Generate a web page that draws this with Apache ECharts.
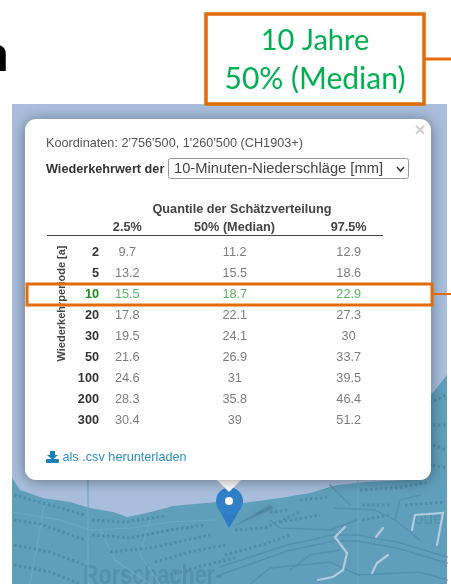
<!DOCTYPE html>
<html>
<head>
<meta charset="utf-8">
<title>Wiederkehrwerte</title>
<script src="https://cdn.jsdelivr.net/npm/echarts@6/dist/echarts.min.js"></script>
<style>
html, body { margin: 0; padding: 0; background: #fff; }
#chart { width: 451px; height: 584px; filter: blur(0.5px); }
</style>
</head>
<body>
<div id="chart"></div>
<script>
// Tabelle
var periods = ['2', '5', '10', '20', '30', '50', '100', '200', '300'];
var quantiles = ['2.5%', '50% (Median)', '97.5%'];
var q025 = [9.7, 13.2, 15.5, 17.8, 19.5, 21.6, 24.6, 28.3, 30.4];
var q500 = [11.2, 15.5, 18.7, 22.1, 24.1, 26.9, 31, 35.8, 39];
var q975 = [12.9, 18.6, 22.9, 27.3, 30, 33.7, 39.5, 46.4, 51.2];
var highlightPeriod = '10';

var ORANGE = '#e36c0a';
var CALLOUT = '#00b050';
var GREEN = '#2f9e3a';
var FONT = '"Liberation Sans", Arial, sans-serif';
var LAKE = '#a8bedc';
var LAND = '#609fbc';
var STREET = '#5391af';
var HOUSES = '#4f8dab';
var ROAD = '#6ca8c3';
var RIVER = '#b2cbdf';
var TEXT_SIZE = 12.7;

var chart = echarts.init(document.getElementById('chart'));

function cellSeries(name, values, col, labelOffset) {
	return {
		name: name,
		type: 'scatter',
		symbolSize: 1,
		itemStyle: { color: 'rgba(0,0,0,0)' },
		silent: true,
		z: 3,
		label: {
			show: true,
			position: 'inside',
			offset: [labelOffset, 0],
			fontFamily: FONT,
			fontSize: TEXT_SIZE,
			color: '#5a5a5a',
			formatter: function (p) { return String(p.value[2]); }
		},
		data: values.map(function (v, i) {
			var item = { value: [col, i, v] };
			if (periods[i] === highlightPeriod) {
				item.label = { color: GREEN };
			}
			return item;
		})
	};
}

// Hintergrund: Karte, Popup, Marker
function back(el) { el.z = -5; el.silent = true; return el; }
function line(points, color, w, dash) {
	return back({
		type: 'polyline',
		shape: { points: points },
		style: { fill: null, stroke: color, lineWidth: w, lineDash: dash || null, lineCap: dash ? 'butt' : 'round' }
	});
}
function street(points) { return line(points, STREET, 1.4); }
function road(points) { return line(points, ROAD, 1.2); }
function houses(points) { return line(points, HOUSES, 3, [2.5, 2.5]); }
function river(points) { return line(points, RIVER, 2.2); }
function text(x, y, str, size, color, weight, align, family) {
	return {
		type: 'text',
		x: x,
		y: y,
		z: -3,
		silent: true,
		style: {
			text: str,
			fontFamily: family || FONT,
			fontSize: size,
			fontWeight: weight || 'normal',
			fill: color,
			align: align || 'left',
			verticalAlign: 'middle'
		}
	};
}

var placeName = text(83, 577, 'Rorschacher-', 27, '#5391ae', 'bold');
placeName.z = -5;
placeName.scaleX = 0.8;
var placeName2 = text(414, 519, 'oue', 17, '#5391ae');
placeName2.z = -5;

var elements = [
	back({ type: 'rect', shape: { x: 12, y: 104, width: 435, height: 480 }, style: { fill: LAKE } }),
	back({
		type: 'polygon',
		shape: { points: [[12, 478], [20, 490], [43, 498], [70, 502], [90, 508], [113, 512], [127, 517], [147, 513], [173, 506], [217, 502], [243, 503], [280, 498], [310, 493], [320, 490], [337, 485], [367, 482], [407, 480], [431, 395], [447, 375], [447, 584], [12, 584]] },
		style: { fill: LAND }
	}),
	placeName,
	placeName2,
	// Strassen
	road([[12, 512], [60, 520], [90, 530], [130, 528], [170, 522], [215, 520]]),
	road([[88, 480], [88, 584]]),
	road([[358, 480], [358, 584]]),
	road([[45, 500], [38, 540], [30, 584]]),
	road([[100, 530], [115, 560], [150, 584]]),
	road([[150, 520], [140, 555], [160, 584]]),
	street([[220, 567], [287, 545], [333, 535], [357, 535], [397, 542], [447, 557]]),
	street([[220, 575], [287, 551], [333, 541], [357, 541], [397, 548], [447, 563]]),
	street([[250, 584], [270, 568], [330, 562], [358, 575], [420, 572], [447, 580]]),
	street([[290, 570], [310, 555], [340, 550]]),
	street([[335, 508], [375, 510], [395, 520], [400, 500], [420, 495]]),
	street([[357, 520], [330, 530], [280, 528], [270, 520]]),
	street([[395, 520], [420, 540]]),
	street([[330, 485], [350, 505]]),
	// Haeuserzeilen
	houses([[14, 495], [50, 505], [85, 515]]),
	houses([[14, 520], [40, 524], [85, 540]]),
	houses([[14, 545], [50, 552], [85, 565]]),
	houses([[14, 565], [50, 572], [80, 584]]),
	houses([[92, 520], [125, 522], [165, 516]]),
	houses([[92, 535], [130, 538], [170, 530], [205, 525]]),
	houses([[110, 552], [150, 548], [210, 535]]),
	houses([[155, 562], [190, 552], [225, 545]]),
	houses([[170, 575], [205, 565], [235, 558]]),
	houses([[225, 555], [262, 545], [290, 535]]),
	houses([[235, 530], [265, 528], [300, 512]]),
	houses([[270, 512], [290, 510]]),
	houses([[280, 522], [320, 515]]),
	houses([[300, 500], [330, 497]]),
	houses([[360, 490], [395, 488], [430, 482]]),
	houses([[362, 505], [390, 505]]),
	houses([[362, 520], [390, 515]]),
	houses([[405, 505], [445, 502]]),
	houses([[425, 405], [446, 395]]),
	houses([[433, 425], [446, 425]]),
	houses([[433, 445], [446, 450]]),
	houses([[433, 465], [446, 468]]),
	river([[345, 527], [335, 537], [347, 553], [343, 570], [333, 577], [318, 580]]),
	river([[383, 528], [376, 537]]),
	river([[388, 555], [377, 563], [372, 573]]),
	river([[412, 530], [415, 515], [443, 513], [437, 545]]),
	// Marker
	back({ type: 'polygon', shape: { points: [[232, 527], [270, 505], [274, 508]] }, style: { fill: 'rgba(50,95,120,0.3)', shadowBlur: 6, shadowColor: 'rgba(35,75,95,0.6)' } }),
	back({ type: 'polygon', shape: { points: [[217.5, 507], [241.5, 507], [229, 528]] }, style: { fill: '#2d7cc3' } }),
	back({ type: 'circle', shape: { cx: 229.5, cy: 501, r: 13.5 }, style: { fill: '#2f80c9' } }),
	back({ type: 'circle', shape: { cx: 229, cy: 501, r: 4 }, style: { fill: '#fff' } }),
	// Popup
	back({ type: 'polygon', shape: { points: [[217, 480], [241, 480], [229, 492]] }, style: { fill: '#fff' } }),
	back({
		type: 'rect',
		shape: { x: 25, y: 119, width: 406, height: 361, r: 11 },
		style: { fill: '#fff', shadowBlur: 14, shadowColor: 'rgba(0,0,0,0.4)', shadowOffsetY: 1 }
	}),
	text(420, 131, '×', 19, '#cfcfcf', 'bold', 'center'),
	text(46, 143.5, "Koordinaten: 2'756'500, 1'260'500 (CH1903+)", TEXT_SIZE, '#555'),
	text(46, 169.5, 'Wiederkehrwert der', TEXT_SIZE, '#333', 'bold'),
	{
		type: 'rect',
		z: -3,
		silent: true,
		shape: { x: 168.5, y: 158.5, width: 240, height: 20, r: 2 },
		style: { fill: '#fff', stroke: '#999', lineWidth: 1 }
	},
	text(174, 168.5, '10-Minuten-Niederschläge [mm]', 14.7, '#444'),
	{
		type: 'polyline',
		z: -3,
		silent: true,
		shape: { points: [[397, 167], [400.5, 171], [404, 167]] },
		style: { fill: null, stroke: '#333', lineWidth: 1.5 }
	},
	text(242, 209.5, 'Quantile der Schätzverteilung', TEXT_SIZE, '#444', 'bold', 'center'),
	{
		type: 'line',
		z: -3,
		silent: true,
		shape: { x1: 47, y1: 235.5, x2: 383, y2: 235.5 },
		style: { stroke: '#444', lineWidth: 1 }
	},
	{
		type: 'text',
		x: 62,
		y: 303.5,
		z: -3,
		rotation: Math.PI / 2,
		silent: true,
		style: {
			text: 'Wiederkehrperiode [a]',
			fontFamily: FONT,
			fontSize: 11,
			fontWeight: 'bold',
			fill: '#444',
			align: 'center',
			verticalAlign: 'middle'
		}
	},
	// Seite, Beschriftung in Orange
	text(-21, 58, 'n', 46, '#000', 'bold', 'left', '"Open Sans"'),
	{
		type: 'rect',
		z: 10,
		silent: true,
		shape: { x: 206, y: 14, width: 218, height: 90 },
		style: { fill: '#fff', stroke: ORANGE, lineWidth: 3.5 }
	},
	{ type: 'line', z: 10, silent: true, shape: { x1: 424, y1: 59, x2: 451, y2: 59 }, style: { stroke: ORANGE, lineWidth: 3 } },
	{
		type: 'text', x: 315, y: 40.5, z: 11, silent: true,
		style: { text: '10 Jahre', fontFamily: 'Lato', fontSize: 29, fill: CALLOUT, align: 'center', verticalAlign: 'middle' }
	},
	{
		type: 'text', x: 315, y: 79, z: 11, silent: true,
		style: { text: '50% (Median)', fontFamily: 'Lato', fontSize: 30, fill: CALLOUT, align: 'center', verticalAlign: 'middle' }
	},
	{
		type: 'rect',
		z: 10,
		silent: true,
		shape: { x: 27, y: 284, width: 405, height: 21 },
		style: { fill: null, stroke: ORANGE, lineWidth: 3 }
	},
	{ type: 'line', z: 10, silent: true, shape: { x1: 432, y1: 294, x2: 451, y2: 294 }, style: { stroke: ORANGE, lineWidth: 2 } },
	// Download
	text(62.5, 457.5, 'als .csv herunterladen', TEXT_SIZE, '#2a8fc0'),
	{ type: 'polygon', z: -3, silent: true, shape: { points: [[50, 451], [55, 451], [55, 455], [58, 455], [52.5, 460], [47, 455], [50, 455]] }, style: { fill: '#1c7fb5' } },
	{ type: 'rect', z: -3, silent: true, shape: { x: 46, y: 459, width: 13, height: 4, r: 1 }, style: { fill: '#1c7fb5' } }
];

var option = {
	animation: false,
	backgroundColor: '#fff',
	graphic: { elements: elements },
	grid: { left: 72, width: 332, top: 242, height: 189 },
	xAxis: {
		type: 'category',
		position: 'top',
		data: [
			quantiles[0],
			{ value: quantiles[1], textStyle: { padding: [0, 7, 0, 0] } },
			quantiles[2]
		],
		axisLine: { show: false },
		axisTick: { show: false },
		splitLine: { show: false },
		axisLabel: {
			interval: 0,
			margin: 8,
			fontFamily: FONT,
			fontSize: TEXT_SIZE,
			fontWeight: 'bold',
			color: '#444'
		}
	},
	yAxis: {
		type: 'category',
		inverse: true,
		data: periods,
		axisLine: { show: false },
		axisTick: { show: false },
		splitLine: { show: false },
		axisLabel: {
			interval: 0,
			margin: -27,
			align: 'right',
			fontFamily: FONT,
			fontSize: TEXT_SIZE,
			fontWeight: 'bold',
			color: function (v) { return v === highlightPeriod ? '#1f8a1f' : '#333'; }
		}
	},
	series: [
		cellSeries(quantiles[0], q025, 0, 0),
		cellSeries(quantiles[1], q500, 1, -3.25),
		cellSeries(quantiles[2], q975, 2, 0)
	]
};

chart.setOption(option);
</script>
</body>
</html>
